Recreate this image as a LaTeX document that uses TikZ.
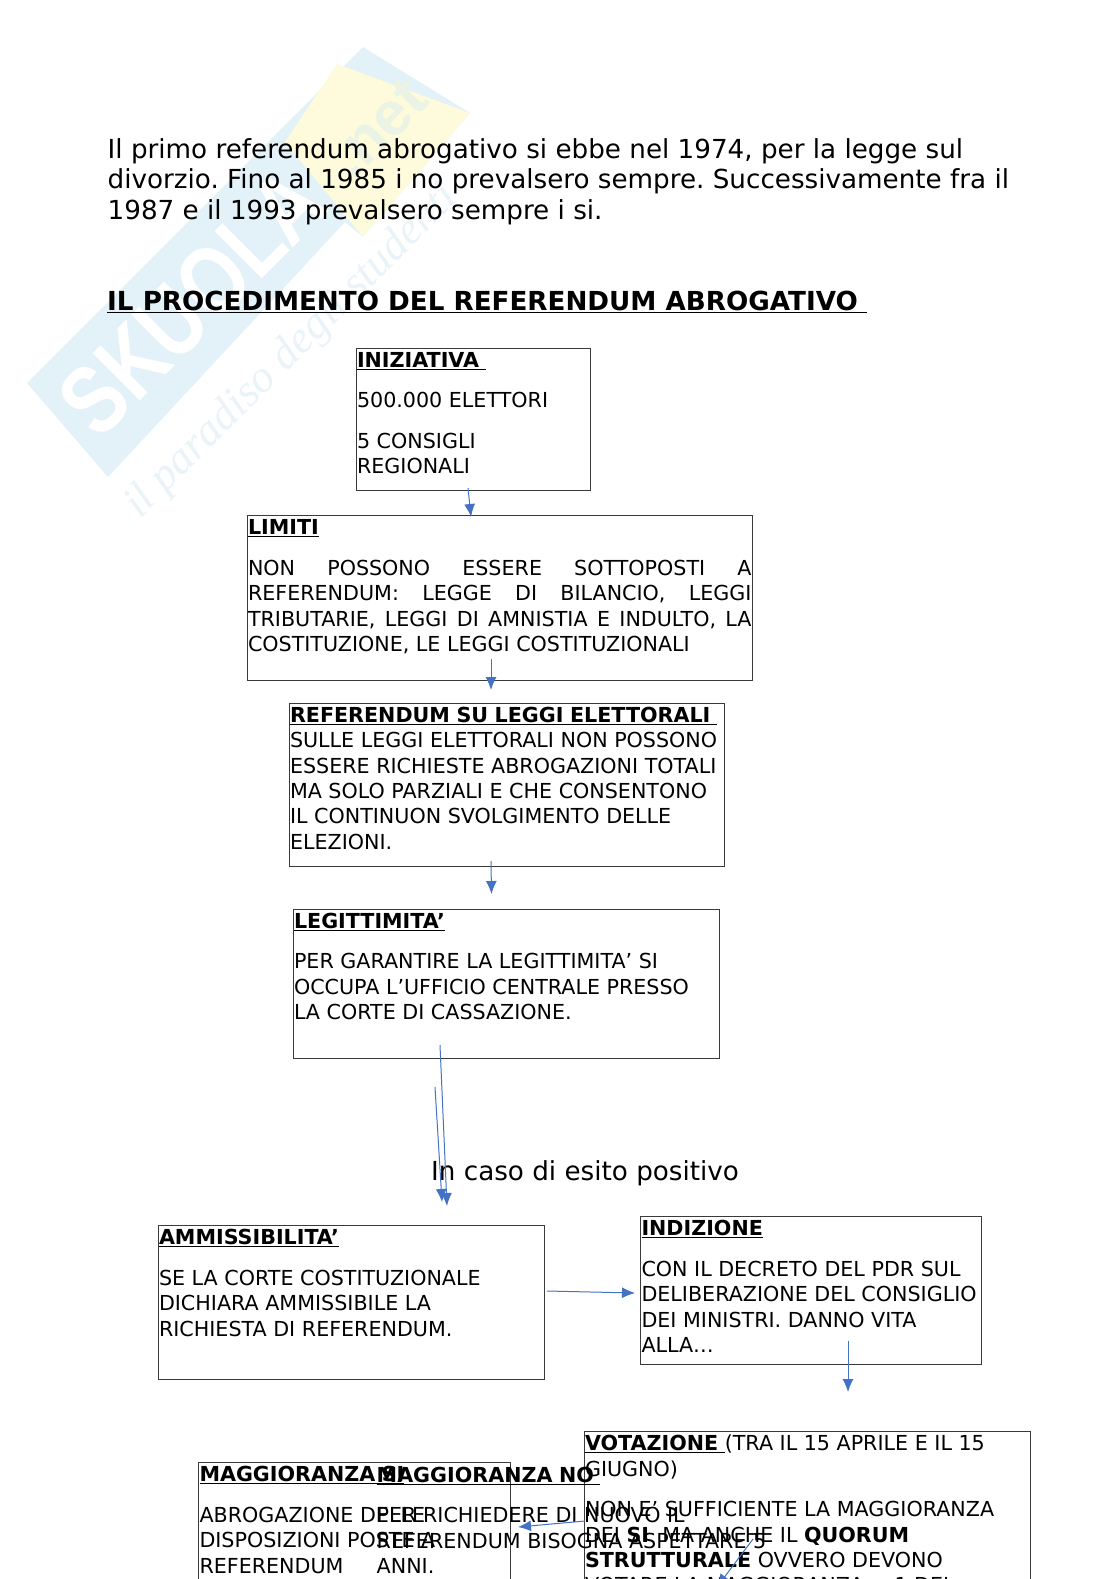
\documentclass[tikz,border=0pt]{standalone}
\usepackage{fontspec}
\usetikzlibrary{arrows.meta}
\setmainfont{DejaVu Sans}
\newfontfamily\markfont{Liberation Sans}
\newfontfamily\sloganfont{Liberation Serif}
\definecolor{arrowblue}{HTML}{4472C4}
\definecolor{boxline}{HTML}{3A3A3A}
\definecolor{markblue}{HTML}{E3F1F8}
\definecolor{markpale}{HTML}{E9F3F8}
\definecolor{markyellow}{HTML}{FDFBDC}
\definecolor{marknet}{HTML}{EBF3E4}
\newcommand{\boxtext}[2]{\parbox[t][#1][t]{\linewidth}{\fontsize{20.65pt}{25.4pt}\selectfont\frenchspacing\spaceskip=0.318em plus 0.3em minus 0.05em\raggedright\hyphenpenalty=10000\setlength{\parindent}{0pt}\setlength{\parskip}{15pt}\rule{0pt}{19.3pt}#2}}
\begin{document}
\begin{tikzpicture}[x=1pt,y=-1pt,
    flowbox/.style={draw=boxline,line width=1pt,anchor=north west,inner xsep=1pt,inner ysep=0pt},
    looseblock/.style={anchor=north west,inner sep=0pt},
    bodytext/.style={anchor=north west,inner sep=0pt,align=left,font=\fontsize{26.2pt}{30.6pt}\selectfont\frenchspacing},
    flowarrow/.style={-{Latex[length=13pt,width=11pt]},draw=arrowblue,line width=1pt}]

    \useasboundingbox (0,0) rectangle (1116,1579);
    \clip (0,0) rectangle (1116,1579);

    \path [fill=markblue] (27,383) -- (363,47) -- (470,113) -- (363,237) -- (345,222) -- (108,477) -- cycle;
    \path [fill=markyellow] (337,64) -- (470,113) -- (363,237) -- (285,142) -- cycle;
    \node [rotate=45,xscale=.8,white,font=\markfont\bfseries\fontsize{97pt}{97pt}\selectfont] (logo) at (192,302) {SKUOLA};
    \node [rotate=45,marknet,font=\markfont\bfseries\fontsize{62pt}{62pt}\selectfont] (lognet) at (378,128) {.net};
    \node [rotate=45,markpale,font=\sloganfont\itshape\fontsize{45pt}{45pt}\selectfont] (slogan) at (292,352) {il paradiso degli studenti};

    \node [bodytext] (intro) at (107.5,138) {Il primo referendum abrogativo si ebbe nel 1974, per la legge sul\\divorzio. Fino al 1985 i no prevalsero sempre. Successivamente fra il\\1987 e il 1993 prevalsero sempre i si.};
    \node [bodytext] (title) at (107,291) {\underline{\textbf{IL PROCEDIMENTO DEL REFERENDUM ABROGATIVO\ }}};

    \node [flowbox,text width=232.5pt] (iniziativa) at (355.5,347.5) {\boxtext{142pt}{\underline{\textbf{INIZIATIVA\ }}\par 500.000 ELETTORI\par 5 CONSIGLI\\REGIONALI}};
    \node [flowbox,text width=503.5pt] (limiti) at (246.5,515) {\boxtext{164.5pt}{\underline{\textbf{LIMITI}}\par \makebox[\linewidth][s]{NON POSSONO ESSERE SOTTOPOSTI A}\\\makebox[\linewidth][s]{REFERENDUM: LEGGE DI BILANCIO, LEGGI}\\\makebox[\linewidth][s]{TRIBUTARIE, LEGGI DI AMNISTIA E INDULTO, LA}\\COSTITUZIONE, LE LEGGI COSTITUZIONALI}};
    \node [flowbox,text width=433.5pt] (elettorali) at (288.5,702.5) {\boxtext{163.5pt}{\underline{\textbf{REFERENDUM SU LEGGI ELETTORALI\ }}\\SULLE LEGGI ELETTORALI NON POSSONO\\ESSERE RICHIESTE ABROGAZIONI TOTALI\\MA SOLO PARZIALI E CHE CONSENTONO\\IL CONTINUON SVOLGIMENTO DELLE\\ELEZIONI.}};
    \node [flowbox,text width=424pt] (legittimita) at (292.5,908.5) {\boxtext{149pt}{\underline{\textbf{LEGITTIMITA’}}\par PER GARANTIRE LA LEGITTIMITA’ SI\\OCCUPA L’UFFICIO CENTRALE PRESSO\\LA CORTE DI CASSAZIONE.}};

    \node [bodytext] (esito) at (431,1160) {In caso di esito positivo};

    \node [flowbox,text width=384.5pt] (ammissibilita) at (157.5,1225) {\boxtext{154pt}{\underline{\textbf{AMMISSIBILITA’}}\par SE LA CORTE COSTITUZIONALE\\DICHIARA AMMISSIBILE LA\\RICHIESTA DI REFERENDUM.}};
    \node [flowbox,text width=339pt] (indizione) at (640,1216) {\boxtext{148pt}{\underline{\textbf{INDIZIONE}}\par CON IL DECRETO DEL PDR SUL\\DELIBERAZIONE DEL CONSIGLIO\\DEI MINISTRI. DANNO VITA\\ALLA…}};
    \node [flowbox,text width=444.5pt] (votazione) at (583.5,1431) {\boxtext{220pt}{\underline{\textbf{VOTAZIONE\ }}(TRA IL 15 APRILE E IL 15\\GIUGNO)\par NON E’ SUFFICIENTE LA MAGGIORANZA\\DEI \textbf{SI}\ \ MA ANCHE IL \textbf{QUORUM}\\\textbf{STRUTTURALE} OVVERO DEVONO\\VOTARE LA MAGGIORANZA + 1 DEL}};
    \node [flowbox,text width=309.5pt] (maggsi) at (198,1462) {\boxtext{190pt}{\underline{\textbf{MAGGIORANZA SI}}\par ABROGAZIONE DELLE\\DISPOSIZIONI POSTE A\\REFERENDUM}};
    \node [looseblock,text width=420pt] (maggno) at (376.5,1463) {\boxtext{190pt}{\underline{\textbf{MAGGIORANZA NO\ }}\par PER RICHIEDERE DI NUOVO IL\\REFERENDUM BISOGNA ASPETTARE 5\\ANNI.}};

    \coordinate (iniziativaout) at (468,488);
    \coordinate (limitiin) at (471,517);
    \coordinate (limitiout) at (491,659);
    \coordinate (elettoraliin) at (491,690);
    \coordinate (elettoraliout) at (491,861);
    \coordinate (legittimitain) at (491.5,894);
    \coordinate (legittimitaout) at (440,1045);
    \coordinate (ammissibilitain) at (447,1206);
    \coordinate (esitoout) at (435,1087);
    \coordinate (esitoin) at (442,1202);
    \coordinate (ammissibilitaout) at (547,1291);
    \coordinate (indizionein) at (635,1293);
    \coordinate (indizioneout) at (848,1340.5);
    \coordinate (votazionein) at (848,1392);
    \coordinate (votazioneleft) at (585,1521);
    \coordinate (maggsiin) at (518,1527);
    \coordinate (votazioneinner) at (753,1539);
    \coordinate (votazionelow) at (717,1587);

    \draw [flowarrow] (iniziativaout) -- (limitiin);
    \draw [flowarrow] (limitiout) -- (elettoraliin);
    \draw [flowarrow] (elettoraliout) -- (legittimitain);
    \draw [flowarrow] (legittimitaout) -- (ammissibilitain);
    \draw [flowarrow] (esitoout) -- (esitoin);
    \draw [flowarrow] (ammissibilitaout) -- (indizionein);
    \draw [flowarrow] (indizioneout) -- (votazionein);
    \draw [flowarrow] (votazioneleft) -- (maggsiin);
    \draw [flowarrow] (votazioneinner) -- (votazionelow);
\end{tikzpicture}
\end{document}
